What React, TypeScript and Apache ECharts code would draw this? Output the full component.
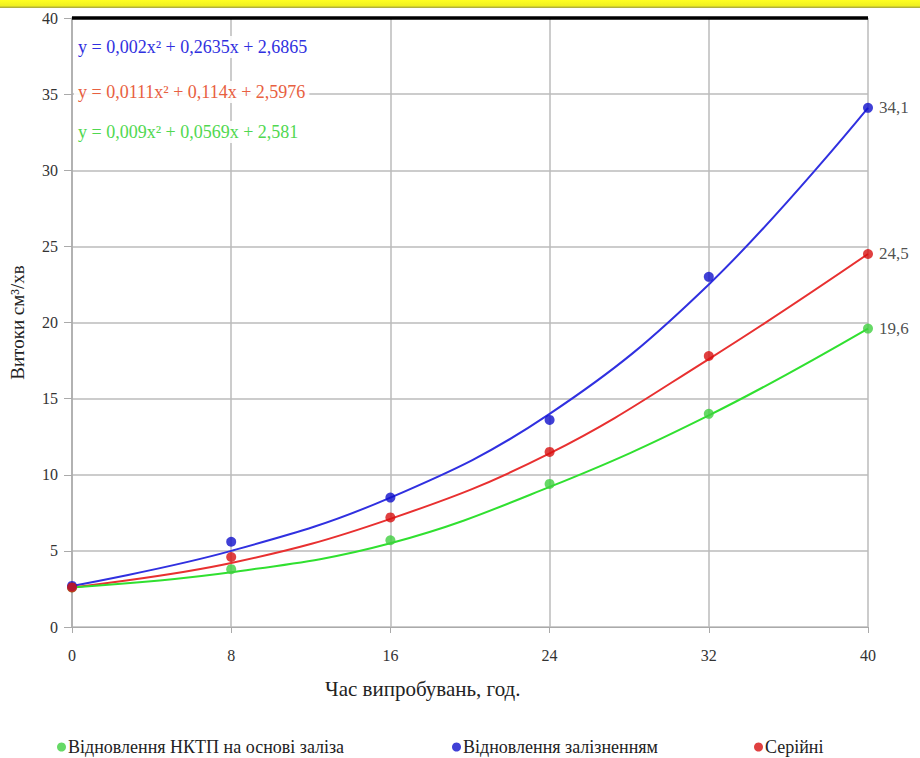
import React, { useEffect, useRef } from "react";
import * as echarts from "echarts";

const hours = [0, 8, 16, 24, 32, 40];

const blueName = "Відновлення залізненням";
const redName = "Серійні";
const greenName = "Відновлення НКТП на основі заліза";

const bluePoints = [2.7, 5.6, 8.5, 13.6, 23.0, 34.1];
const redPoints = [2.6, 4.6, 7.2, 11.5, 17.8, 24.5];
const greenPoints = [2.6, 3.8, 5.7, 9.4, 14.0, 19.6];

const blueTrend = [2.7, 5.0, 8.5, 14.0, 22.5, 34.1];
const redTrend = [2.6, 4.2, 7.1, 11.4, 17.6, 24.5];
const greenTrend = [2.6, 3.6, 5.5, 9.2, 13.9, 19.6];

const endLabels = ["34,1", "24,5", "19,6"];

const equations = [
  "y = 0,002x² + 0,2635x + 2,6865",
  "y = 0,0111x² + 0,114x + 2,5976",
  "y = 0,009x² + 0,0569x + 2,581",
];

const FONT = "Times New Roman, Liberation Serif, DejaVu Serif, serif";

const BLUE = "#1010cc";
const BLUE_LINE = "#3030e0";
const RED = "#d81010";
const RED_LINE = "#e83030";
const GREEN = "#40d040";
const GREEN_LINE = "#30e030";

function pointData(vals: number[], label: string) {
  return vals.map((v, i) =>
    i === vals.length - 1
      ? {
          value: [hours[i], v],
          label: {
            show: true,
            position: "right",
            distance: 6,
            formatter: label,
            color: "#222",
            fontFamily: FONT,
            fontSize: 17,
          },
        }
      : { value: [hours[i], v] }
  );
}

function trendData(vals: number[]) {
  return vals.map((v, i) => [hours[i], v]);
}

export default function App() {
  const ref = useRef<HTMLDivElement>(null);
  useEffect(() => {
    if (!ref.current) return;
    const chart = echarts.init(ref.current, undefined, { renderer: "svg" });
    const trend = (name: string, data: number[], color: string) => ({
      name,
      type: "line",
      smooth: 0.4,
      symbol: "none",
      data: trendData(data),
      lineStyle: { color, width: 2 },
      itemStyle: { color },
      z: 2,
      silent: true,
    });
    const pts = (name: string, data: number[], color: string, lbl: string) => ({
      name,
      type: "scatter",
      symbol: "circle",
      symbolSize: 10,
      data: pointData(data, lbl),
      itemStyle: { color },
      z: 3,
    });
    const legendBase = {
      icon: "circle",
      itemWidth: 9,
      itemHeight: 9,
      itemGap: 2,
      textStyle: { fontFamily: FONT, fontSize: 18, color: "#222", padding: [0, 0, 0, -3] },
      top: 733,
    };
    chart.setOption({
      animation: false,
      backgroundColor: "#ffffff",
      textStyle: { fontFamily: FONT },
      grid: { left: 63, right: 52, top: 18, bottom: 131, containLabel: false },
      xAxis: {
        type: "value",
        min: 0,
        max: 40,
        interval: 8,
        axisLine: { show: true, lineStyle: { color: "#aaaaaa", width: 1 } },
        axisTick: { show: true, length: 6, lineStyle: { color: "#aaaaaa" } },
        axisLabel: { fontFamily: FONT, fontSize: 16, color: "#333", margin: 20 },
        splitLine: { show: true, lineStyle: { color: "#bbbbbb", width: 1.5 } },
      },
      yAxis: {
        type: "value",
        min: 0,
        max: 40,
        interval: 5,
        name: "Витоки см³/хв",
        nameLocation: "middle",
        nameGap: 45,
        nameTextStyle: { fontFamily: FONT, fontSize: 19, color: "#222" },
        axisLine: { show: true, lineStyle: { color: "#aaaaaa", width: 1.5 } },
        axisTick: { show: true, length: 8, lineStyle: { color: "#aaaaaa" } },
        axisLabel: { fontFamily: FONT, fontSize: 16, color: "#333", margin: 14 },
        splitLine: { show: true, lineStyle: { color: "#bbbbbb", width: 1.5 } },
      },
      legend: [
        { ...legendBase, left: 52, data: [greenName] },
        { ...legendBase, left: 447, data: [blueName] },
        { ...legendBase, left: 749, data: [redName] },
      ],
      series: [
        {
          ...trend("trendBlue", blueTrend, BLUE_LINE),
          markLine: {
            silent: true,
            symbol: "none",
            label: { show: false },
            lineStyle: { color: "#000", width: 3.5, type: "solid" },
            data: [{ yAxis: 40 }],
          },
        },
        trend("trendRed", redTrend, RED_LINE),
        trend("trendGreen", greenTrend, GREEN_LINE),
        pts(greenName, greenPoints, GREEN, endLabels[2]),
        pts(blueName, bluePoints, BLUE, endLabels[0]),
        pts(redName, redPoints, RED, endLabels[1]),
      ],
      graphic: [
        {
          type: "rect",
          shape: { x: 0, y: 0, width: 920, height: 8 },
          style: {
            fill: new echarts.graphic.LinearGradient(0, 0, 0, 1, [
              { offset: 0, color: "#ffff20" },
              { offset: 0.7, color: "#f0f020" },
              { offset: 1, color: "#a0a040" },
            ]),
          },
          z: 10,
        },
        {
          type: "text",
          left: 325,
          top: 678,
          style: { text: "Час випробувань, год.", fontFamily: FONT, fontSize: 21, fill: "#222" },
        },
        ...equations.map((t, i) => ({
          type: "text",
          left: 74,
          top: [36, 81, 121][i],
          z: 20,
          style: {
            text: t,
            fontFamily: FONT,
            fontSize: 18,
            fill: [BLUE_LINE, "#e86040", "#50d850"][i],
            backgroundColor: "rgba(255,255,255,0.9)",
            padding: [2, 4],
          },
        })),
      ],
    });
    return () => chart.dispose();
  }, []);
  return (
    <div
      ref={ref}
      style={{ position: "fixed", left: 0, top: 0, width: 920, height: 758 }}
    />
  );
}
